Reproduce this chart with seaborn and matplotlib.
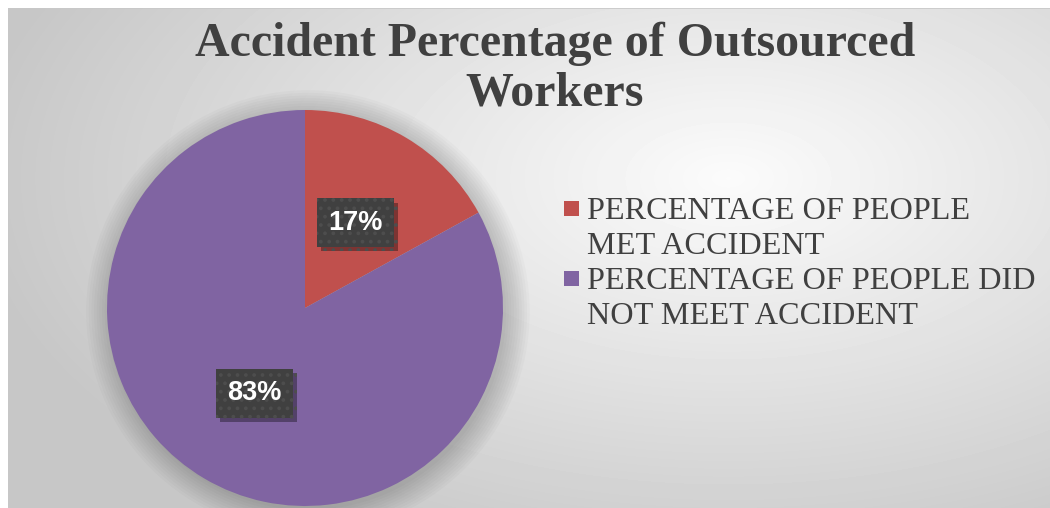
import numpy as np
import matplotlib
matplotlib.use("Agg")
import matplotlib.pyplot as plt
import seaborn as sns
from matplotlib.patches import Rectangle, Circle
import matplotlib.patheffects as pe

categories = ["PERCENTAGE OF PEOPLE\nMET ACCIDENT", "PERCENTAGE OF PEOPLE DID\nNOT MEET ACCIDENT"]
values = [17, 83]
colors = ["#C0504D", "#8064A2"]
title = "Accident Percentage of Outsourced\nWorkers"

sns.set_theme(style="white")
plt.rcParams['font.family'] = ['Liberation Serif', 'DejaVu Serif']
plt.rcParams['hatch.linewidth'] = 1.5

W, H = 1050, 508
fig = plt.figure(figsize=(W / 100, H / 100), dpi=100)
fig.patch.set_facecolor("white")

# background panel with radial gradient
bg = fig.add_axes([8 / W, 0, 1 - 8 / W, 500 / H])
bh, bw = 500, 1042
yy, xx = np.mgrid[0:bh, 0:bw]
cx, cy = 720, 170
d = np.sqrt(((xx - cx) / 700.0) ** 2 + ((yy - cy) / 380.0) ** 2)
img = np.clip(0.985 - 0.19 * d, 0.78, 1.0)
bg.imshow(img, cmap="gray", vmin=0, vmax=1, aspect="auto", extent=[0, bw, bh, 0], interpolation="bilinear")
bg.set_xlim(0, bw)
bg.set_ylim(bh, 0)
bg.set_xticks([])
bg.set_yticks([])
for s in bg.spines.values():
    s.set_visible(False)
bg.plot([0, 0], [0, bh], color="#c8c8c8", lw=1.2)
bg.plot([0, bw], [0, 0], color="#c8c8c8", lw=1.2)

# pie
pcx, pcy, r = 305, 308, 198
ax = fig.add_axes([(pcx - r) / W, (H - pcy - r) / H, 2 * r / W, 2 * r / H])
ax.set_facecolor("none")
ax.patch.set_alpha(0)

# soft shadow
for a in np.linspace(1.12, 1.0, 10):
    ax.add_patch(Circle((0.015, -0.02), a, color="black", alpha=0.018, lw=0, zorder=0, clip_on=False))

wedges, texts, autotexts = ax.pie(
    values,
    colors=colors,
    startangle=90,
    counterclock=False,
    autopct=lambda p: f"{p:.0f}%",
    pctdistance=0.5,
    wedgeprops=dict(linewidth=0),
    textprops=dict(color="white", fontsize=19.5, fontweight="bold", family=["Liberation Sans", "DejaVu Sans"]),
)
for t in autotexts:
    t.set_bbox(dict(boxstyle="square,pad=0.42", facecolor="#404040", edgecolor="#4d4d4d",
                    hatch="..", linewidth=0))
    t.set_zorder(5)
    t.get_bbox_patch().set_path_effects([pe.SimplePatchShadow(offset=(3, -3), alpha=0.35, shadow_rgbFace="black"),
                                         pe.Normal()])
ax.set_xlim(-1, 1)
ax.set_ylim(-1, 1)
ax.set_aspect("equal")
ax.axis("off")

# title
fig.text(555 / W, 1 - 22 / H, title, ha="center", va="top", fontsize=34.5, fontweight="bold",
         color="#404040", linespacing=1.16, multialignment="center")

# legend
leg_y = [208, 278]
for lab, col, yc in zip(categories, colors, leg_y):
    fig.patches.append(Rectangle((564 / W, 1 - (yc + 8) / H), 15 / W, 15 / H, transform=fig.transFigure,
                                 facecolor=col, edgecolor="none", figure=fig))
    fig.text(587 / W, 1 - (yc - 11) / H, lab, ha="left", va="top", fontsize=23.2, color="#404040",
             linespacing=1.25)

fig.savefig("out.png", dpi=100)
